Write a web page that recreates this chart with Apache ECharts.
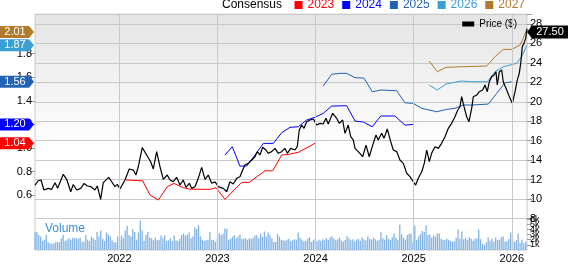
<!DOCTYPE html>
<html><head><meta charset="utf-8">
<script src="https://cdn.jsdelivr.net/npm/echarts@6/dist/echarts.min.js"></script>
<style>html,body{margin:0;padding:0;background:#fff}#c{width:568px;height:264px}</style>
</head><body><div id="c"></div>
<script>
const FONT = '"Liberation Sans", Arial, sans-serif';
const xMinYear = 2021.14, xMaxYear = 2026.155;
const yearTicks = [2022, 2023, 2024, 2025, 2026];
const epsTicks = [0.6, 0.8, 1.0, 1.2, 1.4, 1.6, 1.8];

const priceYears = [2021.140,2021.173,2021.201,2021.231,2021.275,2021.310,2021.344,2021.371,2021.428,2021.463,
2021.504,2021.530,2021.565,2021.606,2021.642,2021.673,2021.710,2021.751,2021.775,2021.809,
2021.836,2021.891,2021.922,2021.955,2021.979,2022.006,2022.057,2022.101,2022.142,2022.169,
2022.197,2022.233,2022.278,2022.319,2022.346,2022.380,2022.414,2022.448,2022.488,2022.516,
2022.549,2022.584,2022.618,2022.651,2022.679,2022.713,2022.737,2022.771,2022.804,2022.839,
2022.873,2022.906,2022.941,2022.975,2023.008,2023.059,2023.094,2023.127,2023.161,2023.196,
2023.229,2023.257,2023.280,2023.314,2023.349,2023.382,2023.406,2023.433,2023.461,2023.494,
2023.518,2023.553,2023.586,2023.620,2023.654,2023.688,2023.712,2023.746,2023.790,2023.813,
2023.834,2023.858,2023.882,2023.909,2023.943,2023.977,2024.011,2024.045,2024.078,2024.106,
2024.129,2024.174,2024.215,2024.242,2024.276,2024.300,2024.333,2024.358,2024.384,2024.402,
2024.435,2024.453,2024.480,2024.514,2024.547,2024.588,2024.616,2024.639,2024.674,2024.697,
2024.731,2024.766,2024.792,2024.827,2024.860,2024.894,2024.929,2024.962,2024.996,2025.020,
2025.047,2025.082,2025.108,2025.133,2025.159,2025.183,2025.217,2025.251,2025.285,2025.319,
2025.353,2025.387,2025.421,2025.449,2025.472,2025.489,2025.513,2025.540,2025.564,2025.591,
2025.608,2025.643,2025.669,2025.703,2025.727,2025.750,2025.771,2025.795,2025.819,2025.839,
2025.852,2025.873,2025.897,2025.913,2025.948,2025.982,2026.006,2026.033,2026.056,2026.076,
2026.091,2026.107,2026.124,2026.142,2026.155];
const priceValues = [11.44,11.88,11.96,10.93,11.10,11.00,11.68,11.10,12.54,12.03,
10.75,11.50,10.93,11.10,11.60,11.34,11.27,10.93,11.34,9.97,
11.68,12.23,11.78,11.27,11.51,11.03,11.96,13.09,12.98,12.47,
13.50,15.28,14.53,13.84,13.09,14.87,13.32,12.03,12.47,11.96,
11.78,12.23,11.44,11.96,11.20,11.62,11.10,11.27,12.13,13.26,
12.03,12.47,11.62,11.78,11.27,11.10,10.75,11.78,11.55,12.13,
12.30,12.98,13.50,13.67,14.01,14.35,14.87,14.53,15.32,15.04,
14.70,14.87,15.21,14.70,14.87,15.21,14.70,15.21,15.04,15.38,
17.10,17.61,17.27,17.95,18.12,18.23,17.61,17.78,17.71,18.30,
17.71,18.81,18.30,17.78,18.12,16.76,17.61,16.41,16.07,15.21,
14.87,14.70,14.35,15.55,14.35,15.73,16.58,16.07,16.76,16.24,
17.20,15.90,15.04,14.87,14.01,13.67,12.65,12.30,11.78,11.44,
12.13,12.81,13.67,15.04,13.84,14.70,15.38,15.21,15.73,16.41,
17.27,17.78,18.46,19.15,19.49,20.52,19.49,18.46,17.95,19.32,
20.52,20.69,21.03,21.21,21.72,21.03,22.06,22.57,22.75,23.09,
21.72,23.09,23.26,22.06,21.21,20.35,19.84,21.03,22.23,22.92,
23.95,25.66,26.00,26.52,27.50];

const c2023Years = [2022.067,2022.238,2022.312,2022.397,2022.488,2022.557,2022.651,2022.720,2022.924,2022.985,2023.076,2023.247,2023.324,2023.484,2023.563,2023.654,2023.722,2023.824,2023.994];
const c2023Values = [0.729,0.722,0.602,0.559,0.672,0.700,0.664,0.652,0.650,0.664,0.565,0.709,0.709,0.807,0.807,0.940,0.946,0.963,1.04];
const c2024Years = [2023.076,2023.151,2023.229,2023.298,2023.382,2023.467,2023.569,2023.654,2023.739,2023.824,2023.909,2023.994,2024.078,2024.164,2024.317,2024.402,2024.486,2024.578,2024.664,2024.809,2024.911,2024.996];
const c2024Values = [0.940,1.011,0.847,0.847,0.940,1.039,1.039,1.129,1.175,1.180,1.237,1.260,1.293,1.355,1.358,1.228,1.220,1.180,1.271,1.271,1.194,1.20];
const c2025Years = [2024.078,2024.164,2024.249,2024.317,2024.402,2024.493,2024.578,2024.664,2024.827,2024.911,2024.996,2025.082,2025.234,2025.336,2025.421,2025.506,2025.591,2025.761,2025.846,2025.931,2025.999];
const c2025Values = [1.525,1.624,1.632,1.632,1.595,1.592,1.476,1.491,1.485,1.383,1.378,1.336,1.307,1.327,1.336,1.364,1.364,1.372,1.463,1.553,1.56];
const c2026Years = [2025.159,2025.241,2025.329,2025.489,2025.591,2025.750,2025.829,2025.913,2026.050,2026.101,2026.155];
const c2026Values = [1.533,1.491,1.542,1.567,1.561,1.561,1.646,1.688,1.717,1.773,1.87];
const c2027Years = [2025.159,2025.241,2025.329,2025.489,2025.744,2025.829,2025.913,2025.999,2026.084,2026.117,2026.155];
const c2027Values = [1.736,1.646,1.683,1.688,1.694,1.773,1.835,1.835,1.872,1.929,2.01];

// weekly volume (thousands), first week starting at xMinYear
const volumeK = [3.4,3.5,2.9,2.6,1.75,2.0,2.9,1.5,
1.3,1.2,1.3,1.5,1.6,1.5,
2.3,2.9,1.75,2.0,2.3,2.0,2.4,
2.3,2.3,2.2,2.4,1.6,1.6,
2.9,2.0,1.75,2.6,2.3,
2.0,3.5,2.6,3.8,2.2,1.75,
3.4,3.0,2.6,1.9,1.5,1.5,2.6,
2.0,2.8,2.3,3.8,4.7,2.9,2.6,4.1,3.5,
2.0,3.4,5.7,3.8,1.75,2.9,3.5,
2.4,2.3,1.9,2.4,1.9,2.0,2.8,
2.3,2.8,1.75,1.9,2.3,1.75,2.8,
1.9,1.75,2.2,2.9,3.2,2.8,3.0,
3.4,2.3,2.6,4.4,4.1,4.8,2.6,
2.0,1.75,1.9,2.0,3.5,2.0,1.9,
1.6,2.3,3.2,2.9,3.2,4.2,4.1,
2.0,2.2,2.6,2.9,2.3,2.6,3.0,
2.2,2.2,2.3,2.0,2.3,2.2,2.4,
2.8,2.9,2.3,3.2,2.6,3.6,2.6,3.4,
2.9,2.3,1.5,1.6,
3.1,2.6,2.0,1.9,1.8,2.0,2.2,1.7,1.9,2.1,2.0,3.4,2.4,2.0,1.7,1.8,2.2,2.5,1.6,1.9,
2.2,1.7,2.0,1.8,2.1,1.9,2.3,2.0,2.5,2.6,2.2,1.9,2.1,2.4,1.8,1.6,2.0,2.7,2.3,1.9,
2.1,1.7,2.0,2.2,1.8,2.5,2.1,1.9,2.6,2.2,2.0,2.4,2.1,1.8,2.0,3.5,2.3,2.0,2.9,2.2,
1.9,2.5,3.2,2.4,2.0,4.9,3.1,2.4,2.0,2.9,3.1,3.2,
1.5,4.7,2.0,2.6,3.1,3.7,3.5,4.8,2.9,3.0,2.4,2.8,2.6,3.2,3.2,2.2,2.0,1.9,2.2,2.0,
1.8,1.6,1.7,2.4,4.0,2.2,3.6,2.1,2.4,1.9,2.5,2.2,1.8,2.2,2.3,4.0,2.1,1.2,1.0,1.5,
2.5,1.8,2.2,1.6,2.4,1.9,2.0,2.5,2.6,1.6,1.7,2.2,
3.4,2.1,1.6,1.9,3.2,1.4,2.0,1.3,1.6];

const seriesNames = ['2023', '2024', '2025', '2026', '2027'];
const seriesColors = ['#ff0000', '#0000ff', '#2262b4', '#3a9fd3', '#b07b2c'];

const pairs = (xs, ys) => xs.slice(0, Math.min(xs.length, ys.length)).map((x, i) => [x, ys[i]]);
const weekStep = 7 / 365.25;
const volumeData = volumeK.map((v, i) => [xMinYear + i * weekStep, v]);
const consensus = [
  [c2023Years, c2023Values], [c2024Years, c2024Values], [c2025Years, c2025Values],
  [c2026Years, c2026Values], [c2027Years, c2027Values]
];

const gridColor = '#c9c9c9';
const yearLines = () => ({
  silent: true, symbol: ['none', 'none'], animation: false,
  label: { show: false },
  lineStyle: { color: gridColor, width: 1, type: 'solid' },
  emphasis: { disabled: true },
  data: yearTicks.map(y => ({ xAxis: y }))
});

const chart = echarts.init(document.getElementById('c'), null, { renderer: 'canvas' });
const option = {
  animation: false,
  textStyle: { fontFamily: FONT },
  title: { text: 'Consensus', left: 222, top: -1, padding: 0,
    textStyle: { fontSize: 12, fontWeight: 'normal', color: '#000', fontFamily: FONT } },
  legend: [
    { data: seriesNames.map((n, i) => ({ name: n, textStyle: { color: seriesColors[i] } })),
      right: 43, top: -1, padding: 0, itemGap: 8, itemWidth: 8, itemHeight: 8, icon: 'rect',
      selectedMode: false, textStyle: { fontSize: 12, fontFamily: FONT } },
    { data: ['Price ($)'], right: 51, top: 19, padding: 0, itemWidth: 12, itemHeight: 5, icon: 'rect',
      selectedMode: false, textStyle: { fontSize: 10, color: '#000', fontFamily: FONT } }
  ],
  grid: [
    { left: 35, right: 41, top: 14.2, height: 204.3, show: true, borderColor: gridColor, borderWidth: 1,
      backgroundColor: { type: 'linear', x: 0, y: 0, x2: 0, y2: 1,
        colorStops: [{ offset: 0, color: '#e4e4e4' }, { offset: 0.65, color: '#ffffff' }, { offset: 1, color: '#ffffff' }] } },
    { left: 35, right: 41, top: 218.5, height: 35, show: true, borderColor: gridColor, borderWidth: 1, backgroundColor: '#fff' }
  ],
  xAxis: [
    { type: 'value', gridIndex: 0, min: xMinYear, max: xMaxYear,
      axisLine: { show: false }, axisTick: { show: false }, axisLabel: { show: false }, splitLine: { show: false } },
    { type: 'value', gridIndex: 1, min: xMinYear, max: xMaxYear,
      axisLine: { show: false }, axisTick: { show: false }, splitLine: { show: false },
      axisLabel: { customValues: yearTicks, formatter: v => String(Math.round(v)), fontSize: 11, color: '#000', margin: 3, fontFamily: FONT } }
  ],
  yAxis: [
    { type: 'value', gridIndex: 0, position: 'right', min: 8, max: 29, interval: 2,
      axisLine: { show: false },
      axisTick: { show: true, length: 5, lineStyle: { color: '#999' } },
      axisLabel: { fontSize: 11, color: '#000', margin: 3, fontFamily: FONT, formatter: v => v > 28.5 ? '' : String(v) },
      splitLine: { show: true, lineStyle: { color: gridColor, width: 1 } } },
    { type: 'value', gridIndex: 0, position: 'left', min: 0.403, max: 2.133,
      axisLine: { show: false },
      axisTick: { show: true, customValues: epsTicks, length: 5, lineStyle: { color: '#999' } },
      axisLabel: { customValues: epsTicks, fontSize: 11, color: '#000', margin: 3, fontFamily: FONT, formatter: v => v.toFixed(1) },
      splitLine: { show: false } },
    { type: 'value', gridIndex: 1, position: 'right', min: 0, max: 6.12, interval: 1,
      axisLine: { show: false },
      axisTick: { show: true, length: 4, lineStyle: { color: '#999' } },
      axisLabel: { fontSize: 9, color: '#000', margin: 3, fontFamily: FONT,
        formatter: v => v > 6.05 ? '' : (v === 0 ? '0' : Math.round(v) + 'k') },
      splitLine: { show: false } }
  ],
  series: [
    { type: 'bar', name: 'Volume', xAxisIndex: 1, yAxisIndex: 2, data: volumeData, barWidth: 1.3,
      itemStyle: { color: '#82b3e2' }, silent: true, markLine: yearLines() },
    ...consensus.map((c, i) => ({
      type: 'line', name: seriesNames[i], xAxisIndex: 0, yAxisIndex: 1, data: pairs(c[0], c[1]),
      showSymbol: false, symbol: 'none', lineStyle: { color: seriesColors[i], width: 1 },
      itemStyle: { color: seriesColors[i] }, silent: true,
      markLine: i === 0 ? yearLines() : undefined
    })),
    { type: 'line', name: 'Price ($)', xAxisIndex: 0, yAxisIndex: 0, data: pairs(priceYears, priceValues),
      showSymbol: false, symbol: 'none', lineStyle: { color: '#000', width: 1.2 }, itemStyle: { color: '#000' }, silent: true }
  ]
};
chart.setOption(option);

// value tags, placed through the chart's own scales
const elements = [];
consensus.forEach((c, i) => {
  const v = c[1][c[1].length - 1];
  let y = chart.convertToPixel({ yAxisIndex: 1 }, v);
  y = Math.max(y, 32);
  elements.push({ type: 'polygon', z: 100, shape: { points: [[0, y - 6], [29, y - 6], [34, y], [29, y + 6], [0, y + 6]] },
    style: { fill: seriesColors[i] } });
  elements.push({ type: 'text', z: 101, x: 15, y: y,
    style: { text: v.toFixed(2), fill: '#fff', font: '11px ' + FONT, textAlign: 'center', textVerticalAlign: 'middle', align: 'center', verticalAlign: 'middle' } });
});
{
  const v = priceValues[priceValues.length - 1];
  let y = chart.convertToPixel({ yAxisIndex: 0 }, v);
  y = Math.max(y, 32);
  elements.push({ type: 'polygon', z: 100, shape: { points: [[527, y], [532, y - 6.5], [568, y - 6.5], [568, y + 6.5], [532, y + 6.5]] },
    style: { fill: '#000' } });
  elements.push({ type: 'text', z: 101, x: 550, y: y,
    style: { text: v.toFixed(2), fill: '#fff', font: '11px ' + FONT, textAlign: 'center', textVerticalAlign: 'middle', align: 'center', verticalAlign: 'middle' } });
}
elements.push({ type: 'text', z: 50, x: 45, y: 229,
  style: { text: 'Volume', fill: '#3d8fd6', font: '12px ' + FONT, textVerticalAlign: 'middle', verticalAlign: 'middle' } });
chart.setOption({ graphic: { elements } });
</script>
</body></html>
